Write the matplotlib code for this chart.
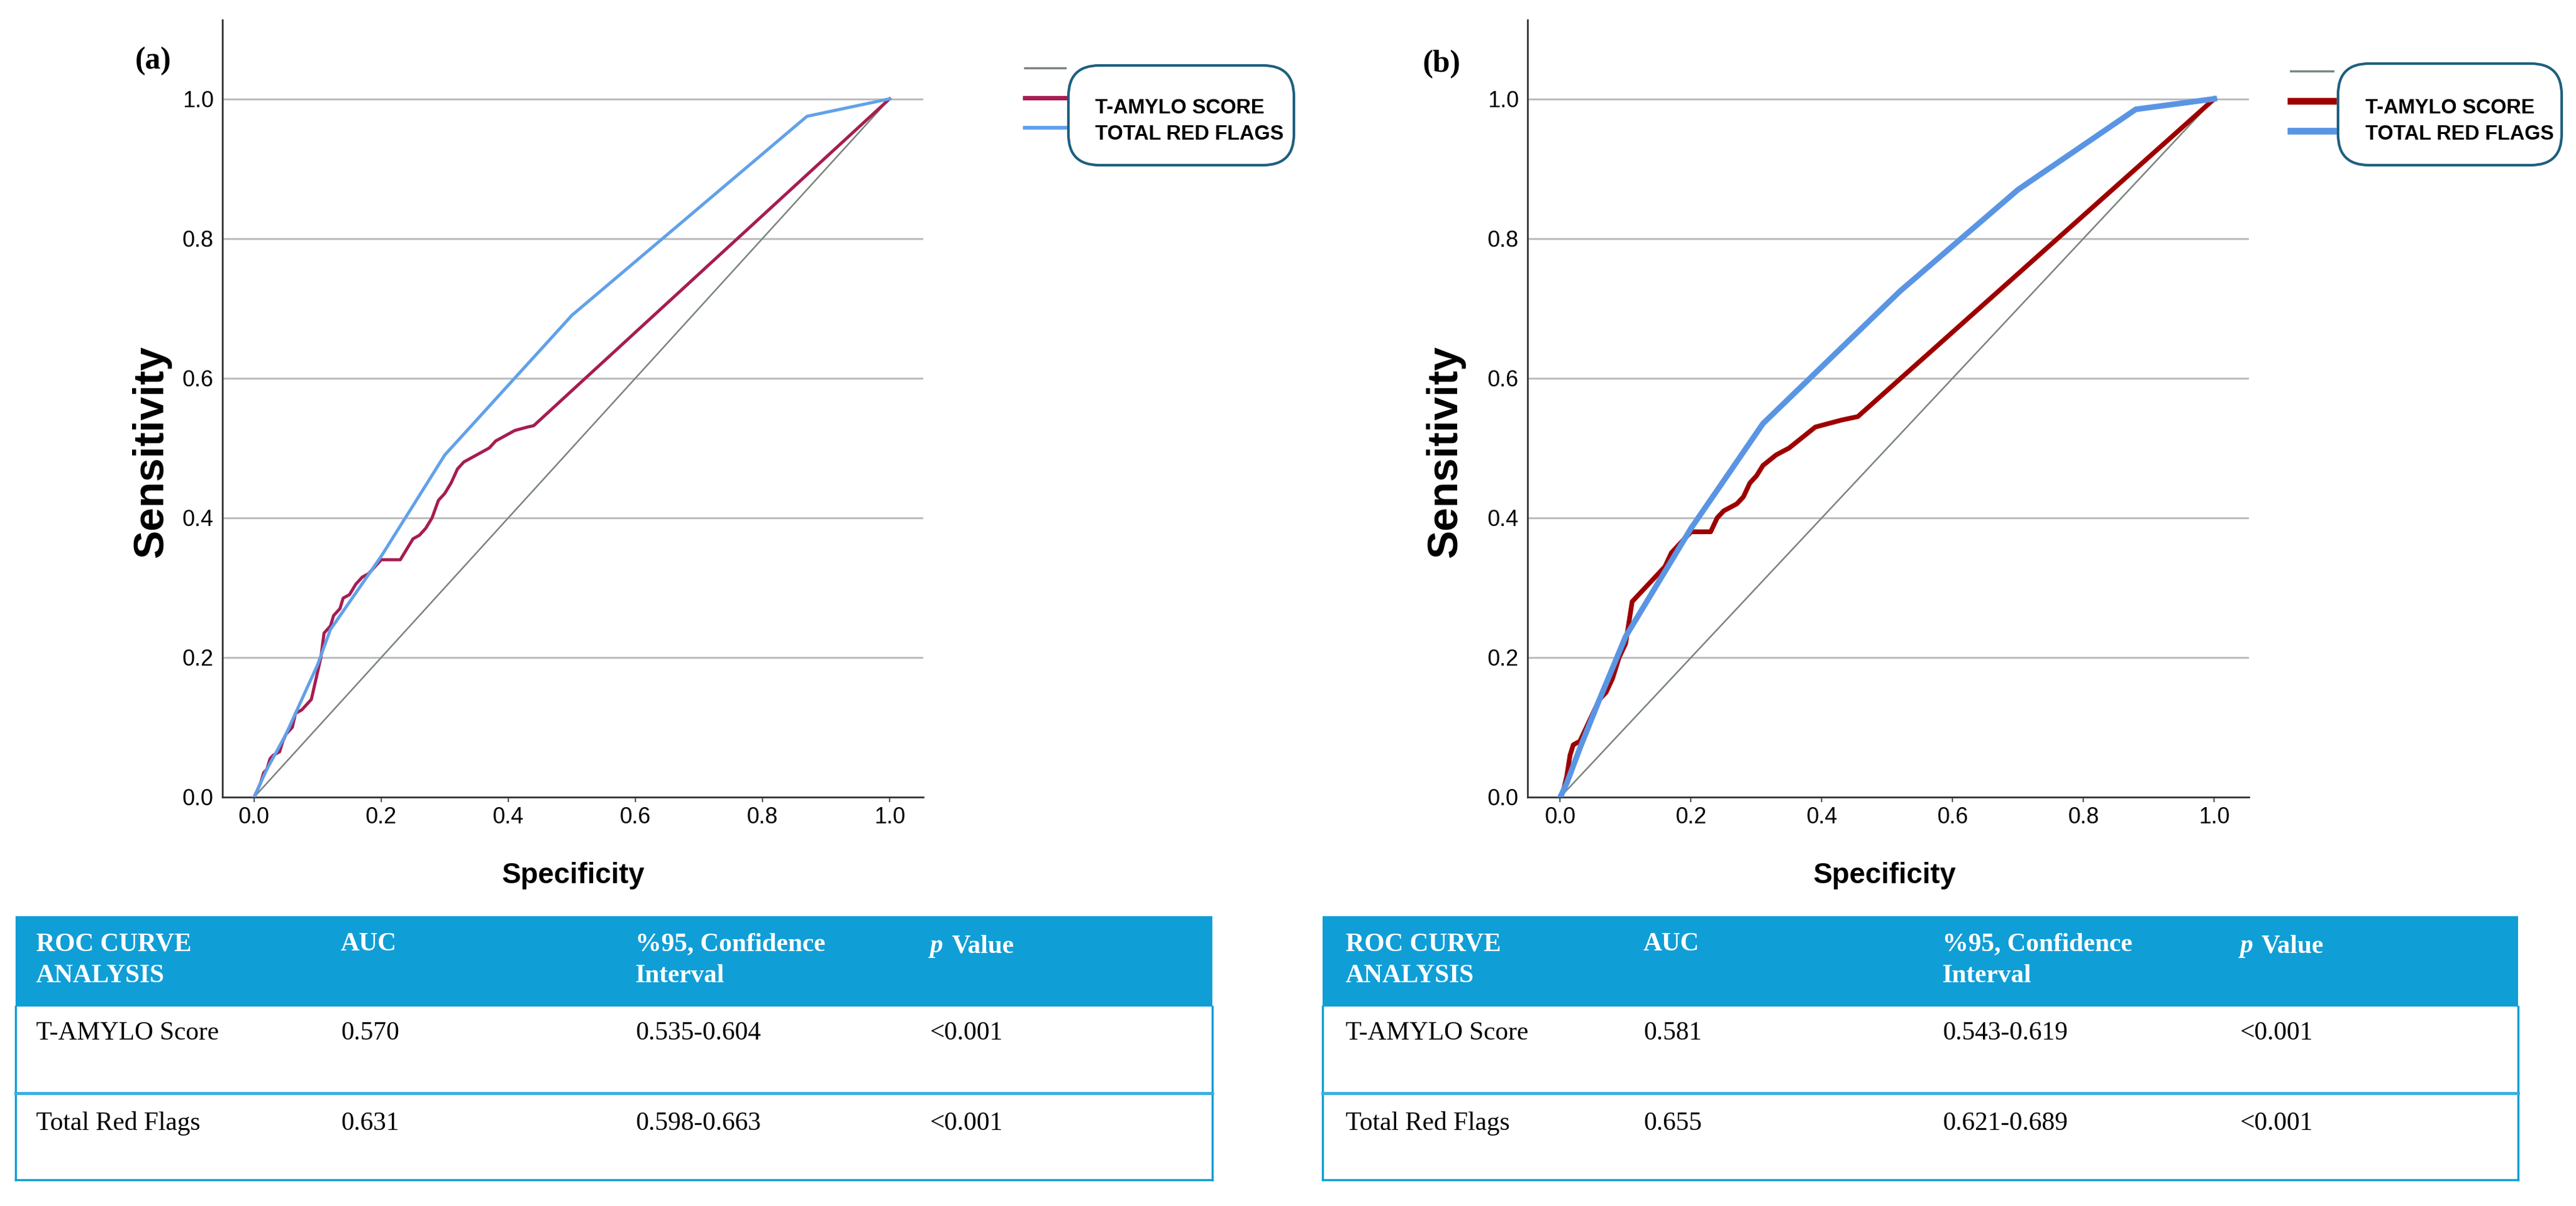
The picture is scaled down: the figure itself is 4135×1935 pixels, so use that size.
import matplotlib
matplotlib.use("Agg")
import matplotlib.pyplot as plt
from matplotlib.lines import Line2D
from matplotlib.patches import Rectangle, FancyBboxPatch

# ---- data ----
panel_tags = ["(a)", "(b)"]
series_names = ["T-AMYLO SCORE", "TOTAL RED FLAGS"]

# panel (a)
amylo_a_x = [0, 0.005, 0.01, 0.015, 0.02, 0.025, 0.03, 0.04, 0.045, 0.05, 0.06, 0.065, 0.075, 0.08,
             0.09, 0.095, 0.1, 0.105, 0.11, 0.12, 0.125, 0.135, 0.14, 0.15, 0.16, 0.17, 0.18, 0.19,
             0.2, 0.23, 0.24, 0.25, 0.26, 0.27, 0.28, 0.29, 0.3, 0.31, 0.32, 0.33, 0.35, 0.37, 0.38,
             0.4, 0.41, 0.43, 0.44, 1.0]
amylo_a_y = [0, 0.01, 0.02, 0.035, 0.04, 0.055, 0.06, 0.065, 0.08, 0.09, 0.1, 0.12, 0.125, 0.13,
             0.14, 0.16, 0.18, 0.2, 0.235, 0.245, 0.26, 0.27, 0.285, 0.29, 0.305, 0.315, 0.32, 0.33,
             0.34, 0.34, 0.355, 0.37, 0.375, 0.385, 0.4, 0.425, 0.435, 0.45, 0.47, 0.48, 0.49, 0.5, 0.51,
             0.52, 0.525, 0.53, 0.532, 1.0]
flags_a_x = [0, 0.02, 0.05, 0.1, 0.12, 0.2, 0.3, 0.5, 0.87, 1.0]
flags_a_y = [0, 0.04, 0.09, 0.19, 0.24, 0.345, 0.49, 0.69, 0.975, 1.0]

# panel (b)
amylo_b_x = [0, 0.005, 0.01, 0.015, 0.02, 0.03, 0.04, 0.05, 0.06, 0.07, 0.08, 0.09, 0.1, 0.105, 0.11,
             0.12, 0.13, 0.14, 0.15, 0.16, 0.17, 0.18, 0.2, 0.23, 0.24, 0.25, 0.27, 0.28, 0.29, 0.3,
             0.31, 0.33, 0.35, 0.37, 0.39, 0.41, 0.43, 0.455, 1.0]
amylo_b_y = [0, 0.01, 0.03, 0.06, 0.075, 0.08, 0.1, 0.12, 0.14, 0.15, 0.17, 0.2, 0.22, 0.25, 0.28,
             0.29, 0.3, 0.31, 0.32, 0.33, 0.35, 0.36, 0.38, 0.38, 0.4, 0.41, 0.42, 0.43, 0.45, 0.46,
             0.475, 0.49, 0.5, 0.515, 0.53, 0.535, 0.54, 0.545, 1.0]
flags_b_x = [0, 0.01, 0.03, 0.06, 0.1, 0.2, 0.31, 0.52, 0.7, 0.88, 1.0]
flags_b_y = [0, 0.02, 0.07, 0.14, 0.23, 0.385, 0.535, 0.725, 0.87, 0.985, 1.0]

ref_x = [0, 1]
ref_y = [0, 1]
ticks = [0.0, 0.2, 0.4, 0.6, 0.8, 1.0]

# table contents
table_head = ["ROC CURVE\nANALYSIS", "AUC", "%95, Confidence\nInterval", "Value"]
row_names = ["T-AMYLO Score", "Total Red Flags"]
auc_a = ["0.570", "0.631"]
ci_a = ["0.535-0.604", "0.598-0.663"]
auc_b = ["0.581", "0.655"]
ci_b = ["0.543-0.619", "0.621-0.689"]
p_vals = ["<0.001", "<0.001"]

W, H = 4135, 1935
fig = plt.figure(figsize=(W / 100, H / 100), dpi=100)
tick_font = ["Liberation Sans Narrow", "Liberation Sans"]


def fx(x):
    return x / W


def fy(y):
    return 1 - y / H


def make_axes(left, right, top, bottom):
    ax = fig.add_axes([fx(left), fy(bottom), (right - left) / W, (bottom - top) / H])
    ax.set_xlim(-0.05, 1.053)
    ax.set_ylim(0, 1.113)
    for s in ["top", "right"]:
        ax.spines[s].set_visible(False)
    for s in ["left", "bottom"]:
        ax.spines[s].set_color("#333333")
        ax.spines[s].set_linewidth(2)
    ax.set_xticks(ticks)
    ax.set_yticks(ticks)
    ax.set_xticklabels(["%.1f" % t for t in ticks], family=tick_font, fontsize=26)
    ax.set_yticklabels(["%.1f" % t for t in ticks], family=tick_font, fontsize=26)
    ax.tick_params(axis="y", length=0, pad=10)
    ax.tick_params(axis="x", length=6, width=1.5, color="#555555", pad=5)
    ax.yaxis.grid(True, color="#bdbdbd", linewidth=2.2)
    ax.set_axisbelow(True)
    return ax


panels = [
    dict(ax=(357, 1482, 32, 1279), tag=(246, 98), ylab=243, xlab=920,
         amylo=(amylo_a_x, amylo_a_y), flags=(flags_a_x, flags_a_y),
         red="#a51d52", blue="#61a1ea", lw_red=3.6, lw_blue=3.6,
         leg_line=(1645, 1710, [109, 157, 205]), box=(1715, 2077, 105, 265), txt_x=1758,
         tab=(25, 1946), cols=[58, 547, 1020, 1493], auc=auc_a, ci=ci_a),
    dict(ax=(2452, 3610, 32, 1279), tag=(2314, 103), ylab=2320, xlab=3025,
         amylo=(amylo_b_x, amylo_b_y), flags=(flags_b_x, flags_b_y),
         red="#9e0000", blue="#5a95e4", lw_red=5.5, lw_blue=6.5,
         leg_line=(3677, 3745, [114, 162, 210]), box=(3753, 4112, 102, 265), txt_x=3797,
         tab=(2123, 4042), cols=[2160, 2638, 3118, 3596], auc=auc_b, ci=ci_b),
]

for i, p in enumerate(panels):
    ax = make_axes(*p["ax"])
    ax.plot(ref_x, ref_y, color="#7b847b", linewidth=1.8, zorder=2)
    ax.plot(*p["amylo"], color=p["red"], linewidth=p["lw_red"], zorder=3)
    ax.plot(*p["flags"], color=p["blue"], linewidth=p["lw_blue"], zorder=4)

    fig.text(fx(p["tag"][0]), fy(p["tag"][1]), panel_tags[i], family="Liberation Serif",
             fontweight="bold", fontsize=36, ha="center", va="center")
    fig.text(fx(p["ylab"]), fy(725), "Sensitivity", family="Liberation Sans", fontweight="bold",
             fontsize=49, rotation=90, ha="center", va="center")
    fig.text(fx(p["xlab"]), fy(1405), "Specificity", family="Liberation Sans", fontweight="bold",
             fontsize=33, ha="center", va="center")

    # legend
    x0, x1, ys = p["leg_line"]
    leg_cols = ["#7b847b", p["red"], p["blue"]]
    leg_lw = [2.5, p["lw_red"] * 1.4, p["lw_blue"] * 1.2]
    for c, lw, yy in zip(leg_cols, leg_lw, ys):
        fig.add_artist(Line2D([fx(x0), fx(x1)], [fy(yy), fy(yy)], color=c, linewidth=lw))
    bl, br, bt, bb = p["box"]
    fig.add_artist(FancyBboxPatch((fx(bl), fy(bb)), (br - bl) / W, (bb - bt) / H,
                                  boxstyle="round,pad=0,rounding_size=0.012",
                                  mutation_aspect=W / H, facecolor="white",
                                  edgecolor="#1d5f7f", linewidth=3))
    fig.text(fx(p["txt_x"]), fy(173), series_names[0], family="Liberation Sans",
             fontweight="bold", fontsize=23.5, va="center")
    fig.text(fx(p["txt_x"]), fy(215), series_names[1], family="Liberation Sans",
             fontweight="bold", fontsize=23.5, va="center")

    # table
    tl, tr = p["tab"]
    blue_t = "#109ed6"
    fig.add_artist(Rectangle((fx(tl), fy(1615)), (tr - tl) / W, (1615 - 1470) / H,
                             facecolor=blue_t, edgecolor="none"))
    for xx in [tl, tr]:
        fig.add_artist(Line2D([fx(xx), fx(xx)], [fy(1615), fy(1893)], color=blue_t, linewidth=2.5))
    fig.add_artist(Line2D([fx(tl), fx(tr)], [fy(1893), fy(1893)], color=blue_t, linewidth=2.5))
    fig.add_artist(Line2D([fx(tl), fx(tr)], [fy(1754), fy(1754)], color="#3aaee0", linewidth=3.5))

    cols = p["cols"]
    for j, h in enumerate(table_head):
        if j == 3:
            fig.text(fx(cols[j]), fy(1518), "p", family="Liberation Serif", fontstyle="italic",
                     fontweight="bold", fontsize=30, color="white", va="center")
            fig.text(fx(cols[j] + 34), fy(1518), h, family="Liberation Serif",
                     fontweight="bold", fontsize=30, color="white", va="center")
        else:
            fig.text(fx(cols[j]), fy(1496), h, family="Liberation Serif", fontweight="bold",
                     fontsize=30, color="white", va="top", linespacing=1.45)
    for r, yy in enumerate([1658, 1803]):
        vals = [row_names[r], p["auc"][r], p["ci"][r], p_vals[r]]
        for j, v in enumerate(vals):
            fig.text(fx(cols[j]), fy(yy), v, family="Liberation Serif", fontsize=30,
                     color="black", va="center")

fig.savefig("out.png", dpi=100, facecolor="white")
